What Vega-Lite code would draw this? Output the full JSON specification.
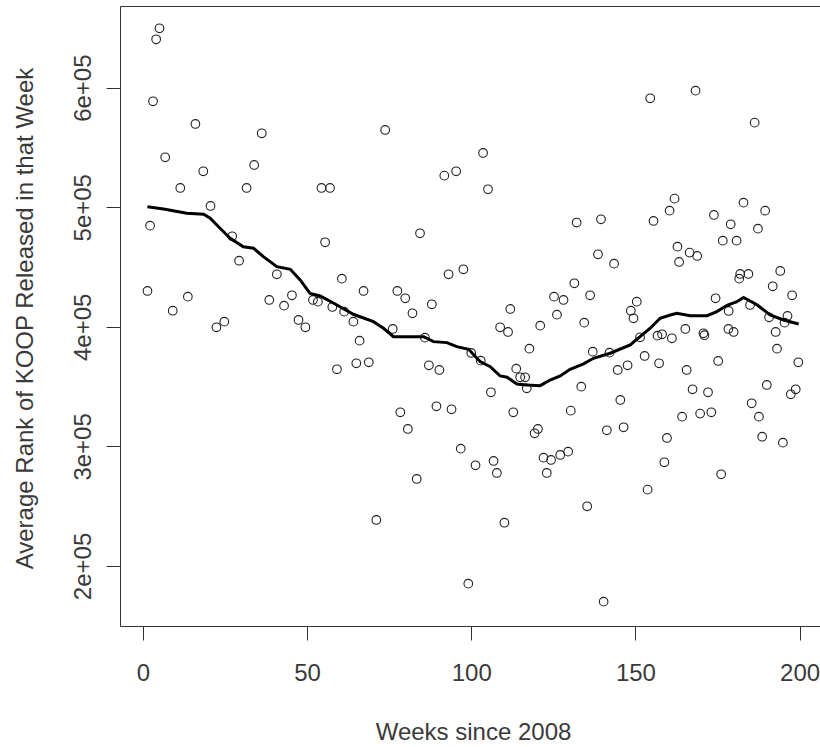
{
  "$schema": "https://vega.github.io/schema/vega-lite/v6.json",
  "width": 700,
  "height": 620,
  "autosize": {"type": "none"},
  "padding": {"left": 120, "top": 6, "right": 0, "bottom": 121},
  "background": "white",
  "config": {
    "view": {"stroke": null},
    "font": "Liberation Sans",
    "axis": {
      "grid": false,
      "domain": true,
      "domainColor": "#333",
      "domainWidth": 1,
      "tickColor": "#333",
      "tickWidth": 1,
      "tickSize": 14,
      "labelFont": "Liberation Sans",
      "labelFontSize": 24,
      "labelColor": "#3a3a3a",
      "titleFont": "Liberation Sans",
      "titleFontSize": 24,
      "titleFontWeight": "normal",
      "titleColor": "#3a3a3a"
    }
  },
  "datasets": {
    "pts": [
      {"w": 1.4, "v": 429980}, {"w": 2.2, "v": 484600}, {"w": 3.1, "v": 588630}, {"w": 4.05, "v": 640480},
      {"w": 5.06, "v": 649680}, {"w": 6.8, "v": 541800}, {"w": 9.1, "v": 413500}, {"w": 11.4, "v": 516120},
      {"w": 13.7, "v": 425220}, {"w": 16.0, "v": 569650}, {"w": 18.4, "v": 530090}, {"w": 20.6, "v": 501070},
      {"w": 22.4, "v": 399600}, {"w": 24.8, "v": 404310}, {"w": 27.2, "v": 475700}, {"w": 29.3, "v": 455300},
      {"w": 31.6, "v": 516120}, {"w": 33.9, "v": 535360}, {"w": 36.2, "v": 561860}, {"w": 38.5, "v": 422460},
      {"w": 40.8, "v": 443940}, {"w": 43.0, "v": 417690}, {"w": 45.4, "v": 426380}, {"w": 47.4, "v": 405730},
      {"w": 49.5, "v": 399600}, {"w": 51.8, "v": 422460}, {"w": 53.3, "v": 421040}, {"w": 54.4, "v": 516120},
      {"w": 55.5, "v": 470700}, {"w": 57.0, "v": 516120}, {"w": 57.7, "v": 416600}, {"w": 59.1, "v": 364500},
      {"w": 60.6, "v": 440270}, {"w": 61.3, "v": 412680}, {"w": 64.1, "v": 404310}, {"w": 65.0, "v": 369500},
      {"w": 66.0, "v": 388420}, {"w": 67.2, "v": 429980}, {"w": 68.8, "v": 370350}, {"w": 71.1, "v": 238470},
      {"w": 73.8, "v": 564630}, {"w": 76.1, "v": 398200}, {"w": 77.5, "v": 429980}, {"w": 78.4, "v": 328530},
      {"w": 79.9, "v": 423880}, {"w": 80.7, "v": 314570}, {"w": 82.1, "v": 411330}, {"w": 83.4, "v": 272760},
      {"w": 84.4, "v": 478220}, {"w": 85.9, "v": 390930}, {"w": 87.1, "v": 367840}, {"w": 88.0, "v": 418860},
      {"w": 89.4, "v": 333560}, {"w": 90.3, "v": 363920}, {"w": 91.8, "v": 526430}, {"w": 93.1, "v": 443940},
      {"w": 94.0, "v": 331050}, {"w": 95.4, "v": 530090}, {"w": 96.8, "v": 298100}, {"w": 97.6, "v": 448130},
      {"w": 99.1, "v": 185200}, {"w": 100.0, "v": 378130}, {"w": 101.3, "v": 284200}, {"w": 102.9, "v": 371690},
      {"w": 103.6, "v": 545400}, {"w": 105.1, "v": 515030}, {"w": 106.0, "v": 345260}, {"w": 106.8, "v": 287810},
      {"w": 107.8, "v": 277780}, {"w": 108.8, "v": 399600}, {"w": 110.1, "v": 236210}, {"w": 111.2, "v": 395690},
      {"w": 111.9, "v": 414930}, {"w": 112.8, "v": 328530}, {"w": 113.7, "v": 365000}, {"w": 114.9, "v": 357810},
      {"w": 116.4, "v": 357810}, {"w": 116.9, "v": 348610}, {"w": 117.7, "v": 381730}, {"w": 119.3, "v": 310980},
      {"w": 120.3, "v": 314570}, {"w": 121.0, "v": 400970}, {"w": 122.0, "v": 290570}, {"w": 123.0, "v": 277780},
      {"w": 124.3, "v": 288650}, {"w": 125.2, "v": 425220}, {"w": 126.1, "v": 410170}, {"w": 127.1, "v": 292830},
      {"w": 128.1, "v": 422460}, {"w": 129.5, "v": 295590}, {"w": 130.3, "v": 329900}, {"w": 131.4, "v": 436420},
      {"w": 132.1, "v": 487200}, {"w": 133.5, "v": 349950}, {"w": 134.4, "v": 403470}, {"w": 135.3, "v": 249930},
      {"w": 136.2, "v": 426380}, {"w": 137.0, "v": 379220}, {"w": 138.6, "v": 460670}, {"w": 139.5, "v": 489950},
      {"w": 140.3, "v": 170150}, {"w": 141.3, "v": 313490}, {"w": 142.1, "v": 378380}, {"w": 143.5, "v": 452820},
      {"w": 144.6, "v": 363920}, {"w": 145.4, "v": 338830}, {"w": 146.4, "v": 316000}, {"w": 147.6, "v": 367840},
      {"w": 148.6, "v": 413500}, {"w": 149.4, "v": 407150}, {"w": 150.4, "v": 421040}, {"w": 151.4, "v": 391260},
      {"w": 152.8, "v": 375620}, {"w": 153.7, "v": 263830}, {"w": 154.5, "v": 591130}, {"w": 155.5, "v": 488520},
      {"w": 156.7, "v": 392600}, {"w": 157.2, "v": 369500}, {"w": 158.1, "v": 393770}, {"w": 158.8, "v": 286720},
      {"w": 159.6, "v": 307040}, {"w": 160.4, "v": 497140}, {"w": 161.1, "v": 390420}, {"w": 161.9, "v": 507200},
      {"w": 162.8, "v": 467040}, {"w": 163.3, "v": 454240}, {"w": 164.2, "v": 324860}, {"w": 165.2, "v": 398200},
      {"w": 165.6, "v": 363920}, {"w": 166.5, "v": 462030}, {"w": 167.4, "v": 347770}, {"w": 168.3, "v": 597500},
      {"w": 168.8, "v": 459250}, {"w": 169.7, "v": 327420}, {"w": 170.7, "v": 394600}, {"w": 171.0, "v": 393000},
      {"w": 172.1, "v": 345260}, {"w": 173.1, "v": 328530}, {"w": 173.9, "v": 493540}, {"w": 174.4, "v": 423880},
      {"w": 175.2, "v": 371440}, {"w": 176.1, "v": 276690}, {"w": 176.6, "v": 472050}, {"w": 178.3, "v": 398200},
      {"w": 178.4, "v": 413260}, {"w": 179.0, "v": 485760}, {"w": 179.9, "v": 395690}, {"w": 180.8, "v": 472050},
      {"w": 181.6, "v": 440270}, {"w": 181.9, "v": 444200}, {"w": 182.9, "v": 503830}, {"w": 184.4, "v": 444200},
      {"w": 184.9, "v": 418280}, {"w": 185.4, "v": 336070}, {"w": 186.3, "v": 570760}, {"w": 187.3, "v": 482090},
      {"w": 187.6, "v": 324860}, {"w": 188.6, "v": 308130}, {"w": 189.5, "v": 497140}, {"w": 190.0, "v": 351370},
      {"w": 190.7, "v": 408000}, {"w": 191.8, "v": 433910}, {"w": 192.7, "v": 395690}, {"w": 193.1, "v": 381730},
      {"w": 194.1, "v": 446710}, {"w": 194.9, "v": 303120}, {"w": 195.4, "v": 403470}, {"w": 196.3, "v": 409080},
      {"w": 197.3, "v": 343590}, {"w": 197.7, "v": 426380}, {"w": 198.8, "v": 347770}, {"w": 199.6, "v": 370350}
    ],
    "fit": [
      {"w": 1.4, "v": 500500}, {"w": 6.3, "v": 498600}, {"w": 13.4, "v": 495000}, {"w": 18.5, "v": 494150},
      {"w": 20.5, "v": 490800}, {"w": 23.5, "v": 482450}, {"w": 26.6, "v": 474100}, {"w": 30.6, "v": 467000},
      {"w": 33.7, "v": 465700}, {"w": 36.7, "v": 458700}, {"w": 40.8, "v": 450300}, {"w": 44.9, "v": 448100},
      {"w": 47.9, "v": 439200}, {"w": 50.9, "v": 428000}, {"w": 54.0, "v": 425800}, {"w": 59.1, "v": 418300},
      {"w": 64.1, "v": 410500}, {"w": 70.2, "v": 404300}, {"w": 73.3, "v": 398800}, {"w": 76.3, "v": 391800},
      {"w": 85.5, "v": 391800}, {"w": 88.5, "v": 387600}, {"w": 92.6, "v": 386800}, {"w": 95.6, "v": 383400},
      {"w": 99.2, "v": 381200}, {"w": 102.7, "v": 370900}, {"w": 105.8, "v": 366700}, {"w": 108.8, "v": 358900},
      {"w": 110.9, "v": 357800}, {"w": 113.9, "v": 352200}, {"w": 116.9, "v": 351400}, {"w": 121.0, "v": 350800},
      {"w": 124.0, "v": 355500}, {"w": 127.1, "v": 358900}, {"w": 130.1, "v": 364500}, {"w": 134.2, "v": 369000},
      {"w": 137.2, "v": 373700}, {"w": 142.3, "v": 377900}, {"w": 148.4, "v": 384800}, {"w": 151.4, "v": 391800},
      {"w": 154.5, "v": 398800}, {"w": 157.5, "v": 407200}, {"w": 160.6, "v": 409900}, {"w": 162.6, "v": 411300},
      {"w": 166.7, "v": 409300}, {"w": 171.8, "v": 409300}, {"w": 174.8, "v": 412700}, {"w": 177.9, "v": 418000},
      {"w": 180.9, "v": 421000}, {"w": 182.9, "v": 424500}, {"w": 187.0, "v": 418500}, {"w": 191.0, "v": 409900},
      {"w": 195.1, "v": 405700}, {"w": 199.7, "v": 402400}
    ]
  },
  "layer": [
    {
      "data": {"name": "pts"},
      "mark": {"type": "point", "shape": "circle", "filled": false, "stroke": "#222", "strokeWidth": 1.1, "size": 75, "opacity": 1},
      "encoding": {
        "x": {
          "field": "w", "type": "quantitative",
          "scale": {"domain": [-6.96, 206.2], "nice": false, "zero": false},
          "axis": {
            "orient": "bottom",
            "values": [0, 50, 100, 150, 200],
            "format": "d",
            "labelBaseline": "alphabetic",
            "labelPadding": 40,
            "labelFlush": false,
            "title": "Weeks since 2008",
            "titleBaseline": "alphabetic",
            "titleX": 353,
            "titleY": 113
          }
        },
        "y": {
          "field": "v", "type": "quantitative",
          "scale": {"domain": [149800, 668300], "nice": false, "zero": false},
          "axis": {
            "orient": "left",
            "values": [200000, 300000, 400000, 500000, 600000],
            "labelExpr": "format(datum.value / 100000, 'd') + 'e+05'",
            "labelAngle": 270,
            "labelAlign": "center",
            "labelBaseline": "alphabetic",
            "labelPadding": 16,
            "labelFlush": false,
            "title": "Average Rank of KOOP Released in that Week",
            "titleAngle": 270,
            "titleAlign": "center",
            "titleBaseline": "alphabetic",
            "titleX": -88,
            "titleY": 312
          }
        }
      }
    },
    {
      "data": {"name": "fit"},
      "mark": {"type": "line", "color": "#000", "strokeWidth": 3, "interpolate": "linear"},
      "encoding": {
        "x": {
          "field": "w", "type": "quantitative",
          "axis": {"orient": "top", "labels": false, "ticks": false, "title": null}
        },
        "y": {"field": "v", "type": "quantitative"}
      }
    }
  ],
  "resolve": {"axis": {"x": "independent"}}
}
